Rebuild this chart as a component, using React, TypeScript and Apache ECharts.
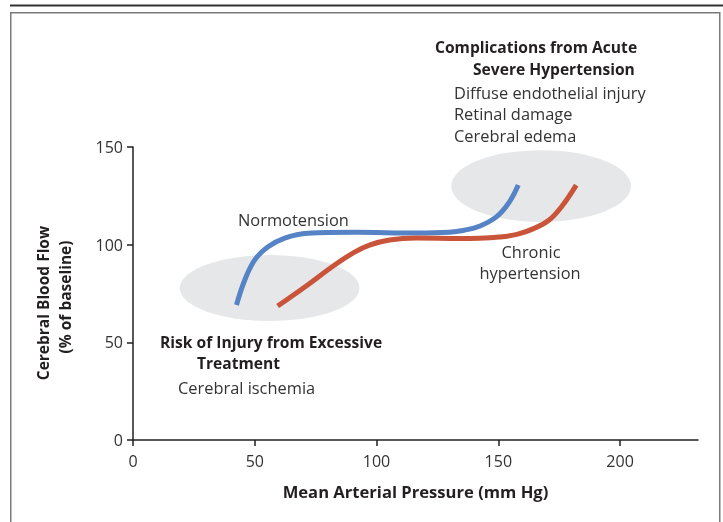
import React, { useEffect, useRef } from "react";
import * as echarts from "echarts";

const xTicks = [0, 50, 100, 150, 200];
const yTicks = [0, 50, 100, 150];

const normotension: [number, number][] = [
  [42.5, 69.1], [45.9, 81.9], [50.0, 92.2], [55.3, 98.8], [62.3, 103.4],
  [71.7, 105.9], [91.0, 106.3], [116.4, 106.0], [129.9, 106.4], [136, 107.4],
  [142.2, 109.4], [149.2, 114.2], [154.5, 121.8], [158.2, 130.5],
];

const chronic: [number, number][] = [
  [59.4, 68.6], [71.7, 79.4], [82.8, 89.6], [91.0, 96.2], [97.1, 99.8],
  [105.3, 102.4], [116.4, 103.4], [134, 103.2], [142.2, 103.3], [150.4, 103.9],
  [158, 105.4], [164.5, 108.2], [170.9, 112.6], [176.2, 119.8], [182, 130.5],
];

// [centerX, centerY, radiusX, radiusY] in data units
const zones: [number, number, number, number][] = [
  [56.1, 77.8, 36.9, 16.9],
  [167.6, 130.0, 36.9, 18.4],
];

const FONT = "'Open Sans', 'Noto Sans', sans-serif";

export default function App() {
  const ref = useRef<HTMLDivElement>(null);
  useEffect(() => {
    if (!ref.current) return;
    const chart = echarts.init(ref.current, null, { renderer: "svg" });
    const label = (x: number, y: number, text: string, bold = false, align = "left") => ({
      type: "text",
      x,
      y,
      z: 10,
      style: {
        text,
        fill: bold ? "#231f20" : "#333",
        font: `${bold ? "bold " : ""}${bold ? 15.6 : 16.4}px ${FONT}`,
        textAlign: align,
        textVerticalAlign: "middle",
      },
    });
    chart.setOption({
      animation: false,
      grid: { left: 133, right: 25, top: 147, bottom: 82 },
      xAxis: {
        type: "value",
        min: 0,
        max: 232,
        interval: 50,
        name: "Mean Arterial Pressure (mm Hg)",
        nameLocation: "middle",
        nameGap: 43,
        nameTextStyle: { fontFamily: FONT, fontWeight: "bold", fontSize: 16.6, color: "#231f20" },
        axisLine: { lineStyle: { color: "#231f20", width: 1.5 } },
        axisTick: { show: true, inside: false, length: 6, customValues: xTicks, lineStyle: { color: "#231f20", width: 1.5 } },
        axisLabel: { customValues: xTicks, margin: 13, fontFamily: FONT, fontSize: 16, color: "#333" },
        splitLine: { show: false },
      },
      yAxis: {
        type: "value",
        min: 0,
        max: 150,
        interval: 50,
        axisLine: { show: true, lineStyle: { color: "#231f20", width: 1.5 } },
        axisTick: { show: true, inside: false, length: 6, customValues: yTicks, lineStyle: { color: "#231f20", width: 1.5 } },
        axisLabel: { customValues: yTicks, margin: 10, fontFamily: FONT, fontSize: 16, color: "#333" },
        splitLine: { show: false },
      },
      series: [
        {
          type: "custom",
          clip: false,
          z: 1,
          data: zones,
          renderItem: (params: any, api: any) => {
            const c = api.coord([api.value(0), api.value(1)]);
            const s = api.size([api.value(2), api.value(3)]);
            return {
              type: "ellipse",
              shape: { cx: c[0], cy: c[1], rx: s[0], ry: s[1] },
              style: { fill: "#e6e7e8" },
            };
          },
        },
        {
          type: "line",
          name: "Normotension",
          data: normotension,
          smooth: 0.4,
          showSymbol: false,
          z: 3,
          lineStyle: { color: "#5583c5", width: 5 },
        },
        {
          type: "line",
          name: "Chronic hypertension",
          data: chronic,
          smooth: 0.4,
          showSymbol: false,
          z: 3,
          lineStyle: { color: "#c9543a", width: 5 },
        },
      ],
      graphic: [
        { type: "line", shape: { x1: 10, y1: 5.5, x2: 723, y2: 5.5 }, style: { stroke: "#333", lineWidth: 2 } },
        { type: "rect", shape: { x: 10.75, y: 12.75, width: 709, height: 520 }, style: { fill: "none", stroke: "#7a7a7a", lineWidth: 1.5 } },
        label(238, 219, "Normotension"),
        label(531, 251.5, "Chronic", false, "center"),
        label(530, 272.5, "hypertension", false, "center"),
        label(435, 47, "Complications from Acute", true),
        label(473, 69, "Severe Hypertension", true),
        label(454, 92, "Diffuse endothelial injury"),
        label(454, 113, "Retinal damage"),
        label(454, 135, "Cerebral edema"),
        label(160, 342, "Risk of Injury from Excessive", true),
        label(197, 363, "Treatment", true),
        label(178, 387, "Cerebral ischemia"),
        {
          type: "text",
          x: 43,
          y: 303,
          rotation: Math.PI / 2,
          style: { text: "Cerebral Blood Flow", fill: "#231f20", font: `bold 15.5px ${FONT}`, textAlign: "center", textVerticalAlign: "middle" },
        },
        {
          type: "text",
          x: 65,
          y: 297,
          rotation: Math.PI / 2,
          style: { text: "(% of baseline)", fill: "#231f20", font: `bold 15.5px ${FONT}`, textAlign: "center", textVerticalAlign: "middle" },
        },
      ],
    });
    return () => chart.dispose();
  }, []);
  return <div ref={ref} style={{ position: "fixed", left: 0, top: 0, width: 723, height: 522 }} />;
}
